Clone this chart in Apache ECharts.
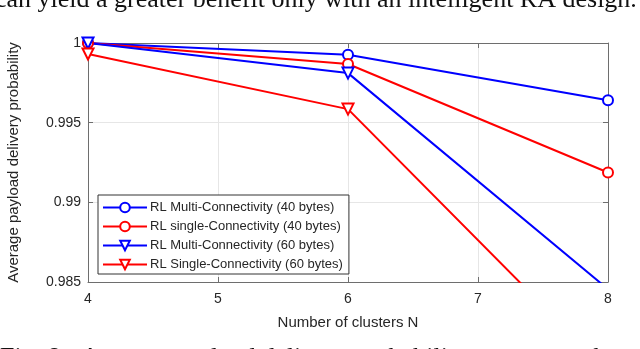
<!DOCTYPE html>
<html>
<head>
<meta charset="utf-8">
<script src="https://cdn.jsdelivr.net/npm/echarts@6/dist/echarts.min.js"></script>
<style>
  html, body { margin: 0; padding: 0; background: #fff; }
  #chart { width: 640px; height: 349px; }
</style>
</head>
<body>
<div id="chart"></div>
<script>
  // cluster counts (x axis)
  var clusters = [4, 6, 8];
  // delivery probability
  var multi40 = [1.0, 0.99926, 0.99641];
  var single40 = [1.0, 0.99868, 0.99187];
  var multi60 = [1.0, 0.99811, 0.98455];
  var single60 = [0.99931, 0.99585, 0.97940];
  var seriesNames = [
    'RL Multi-Connectivity (40 bytes)',
    'RL single-Connectivity (40 bytes)',
    'RL Multi-Connectivity (60 bytes)',
    'RL Single-Connectivity (60 bytes)'
  ];
  var yTicks = { min: 0.985, max: 1, step: 0.005 };
  var xTicks = { min: 4, max: 8, step: 1 };

  var BLUE = '#0000ff';
  var RED = '#ff0000';
  var TXT = '#262626';
  var AXIS = '#6e6e6e';
  var FONT = '"Liberation Sans", Arial, Helvetica, sans-serif';
  var SERIF = '26px "Liberation Serif", "Times New Roman", serif';

  function pairs(vals) {
    return clusters.map(function (c, i) { return [c, vals[i]]; });
  }

  function lineSeries(name, vals, color, triangle) {
    return {
      name: name,
      type: 'line',
      data: pairs(vals),
      symbol: triangle ? 'emptyTriangle' : 'emptyCircle',
      symbolRotate: triangle ? 180 : 0,
      symbolSize: triangle ? 11 : 10,
      showAllSymbol: true,
      clip: true,
      lineStyle: { color: color, width: 2 },
      itemStyle: { color: color, borderColor: color, borderWidth: 2 },
      emphasis: { disabled: true },
      animation: false
    };
  }

  var chart = echarts.init(document.getElementById('chart'));

  var baseAxis = {
    axisLine: { show: true, onZero: false, lineStyle: { color: AXIS, width: 1 } },
    axisTick: { show: true, inside: true, length: 5, lineStyle: { color: AXIS } },
    axisLabel: { color: TXT, fontSize: 14, fontFamily: FONT }
  };

  var option = {
    backgroundColor: '#fff',
    animation: false,
    grid: {
      left: 88, right: 32, top: 43, bottom: 67,
      containLabel: false, outerBoundsMode: 'none'
    },
    legend: {
      orient: 'vertical',
      left: 98,
      top: 195,
      data: seriesNames,
      itemWidth: 44,
      itemHeight: 12,
      itemGap: 6,
      padding: [6, 6, 3, 4],
      backgroundColor: '#fff',
      borderColor: '#333',
      borderWidth: 1,
      textStyle: { color: TXT, fontSize: 13, fontFamily: FONT, padding: [0, 0, 0, -2] }
    },
    xAxis: [
      Object.assign({}, baseAxis, {
        type: 'value',
        min: xTicks.min, max: xTicks.max, interval: xTicks.step,
        name: 'Number of clusters N',
        nameLocation: 'middle',
        nameGap: 33,
        nameTextStyle: { color: TXT, fontSize: 15, fontFamily: FONT },
        axisLabel: { color: TXT, fontSize: 14, fontFamily: FONT, margin: 10 },
        splitLine: { show: true, lineStyle: { color: '#e6e6e6', width: 1 } }
      }),
      Object.assign({}, baseAxis, {
        type: 'value', position: 'top',
        min: xTicks.min, max: xTicks.max, interval: xTicks.step,
        axisLabel: { show: false },
        splitLine: { show: false }
      })
    ],
    yAxis: [
      Object.assign({}, baseAxis, {
        type: 'value',
        min: yTicks.min, max: yTicks.max, interval: yTicks.step,
        name: 'Average payload delivery probability',
        nameLocation: 'middle',
        nameGap: 67,
        nameTextStyle: { color: TXT, fontSize: 15, fontFamily: FONT },
        axisLabel: {
          color: TXT, fontSize: 14, fontFamily: FONT, margin: 7,
          formatter: function (v) { return String(+v.toFixed(3)); }
        },
        splitLine: { show: true, lineStyle: { color: '#e6e6e6', width: 1 } }
      }),
      Object.assign({}, baseAxis, {
        type: 'value', position: 'right',
        min: yTicks.min, max: yTicks.max, interval: yTicks.step,
        axisLabel: { show: false },
        splitLine: { show: false }
      })
    ],
    graphic: [
      {
        type: 'text', left: -5, top: -13, silent: true,
        style: {
          text: 'can yield a greater benefit only with an intelligent RA design.',
          fill: '#111', font: SERIF
        }
      },
      {
        type: 'text', left: 0, top: 345, silent: true,
        style: {
          text: 'Fig. 8:  Average payload delivery probability versus number of clusters N',
          fill: '#111', font: SERIF
        }
      }
    ],
    series: [
      lineSeries(seriesNames[0], multi40, BLUE, false),
      lineSeries(seriesNames[1], single40, RED, false),
      lineSeries(seriesNames[2], multi60, BLUE, true),
      lineSeries(seriesNames[3], single60, RED, true)
    ]
  };

  chart.setOption(option);
</script>
</body>
</html>
